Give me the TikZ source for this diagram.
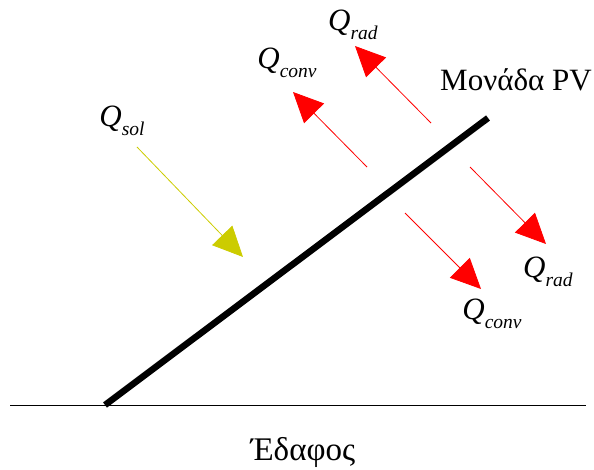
\documentclass[tikz,border=0pt]{standalone}
\usepackage{fontspec}
\setmainfont{Liberation Serif}
\usetikzlibrary{arrows.meta}
\definecolor{solyel}{RGB}{204,204,0}
\newcommand\qlab[2]{\textit{Q}\raisebox{-0.3em}{\fontsize{19.5}{19.5}\selectfont\textit{#2}}}
\tikzset{
  lbl/.style={font=\fontsize{31}{34}\selectfont, inner sep=0pt},
  heat/.style={draw=red, line width=0.8pt, -{Triangle[length=30pt,width=28pt]}, color=red},
  sun/.style={draw=solyel, line width=0.8pt, -{Triangle[length=30pt,width=28pt]}, color=solyel},
}
\begin{document}
\begin{tikzpicture}[x=1pt,y=-1pt]
\useasboundingbox (0,0) rectangle (594,470);
% ground
\coordinate (g1) at (10,405);
\coordinate (g2) at (586,405);
\draw[line width=0.8pt] (g1) -- (g2);
% panel
\coordinate (p1) at (105,405);
\coordinate (p2) at (488,118);
\draw[line width=6.5pt] (p1) -- (p2);
% solar
\coordinate (s1) at (137,147);
\coordinate (s2) at (243,257);
\draw[sun] (s1) -- (s2);
% red arrows
\coordinate (cu1) at (367,167);
\coordinate (cu2) at (293,92);
\draw[heat] (cu1) -- (cu2);
\coordinate (ru1) at (431,123);
\coordinate (ru2) at (355,46);
\draw[heat] (ru1) -- (ru2);
\coordinate (rd1) at (470,167);
\coordinate (rd2) at (546,244);
\draw[heat] (rd1) -- (rd2);
\coordinate (cd1) at (405,213);
\coordinate (cd2) at (481,289);
\draw[heat] (cd1) -- (cd2);
% labels
\node[lbl] (lrt) at (353,25) {\qlab{Q}{rad}};
\node[lbl] (lct) at (287,63) {\qlab{Q}{conv}};
\node[lbl] (lsol) at (122,121) {\qlab{Q}{sol}};
\node[lbl] (lpv) at (516,80) {Μονάδα PV};
\node[lbl] (lrb) at (548,272) {\qlab{Q}{rad}};
\node[lbl] (lcb) at (492,314) {\qlab{Q}{conv}};
\node[lbl, font=\fontsize{33}{36}\selectfont] (lgr) at (303,452) {Έδαφος};
\end{tikzpicture}
\end{document}
